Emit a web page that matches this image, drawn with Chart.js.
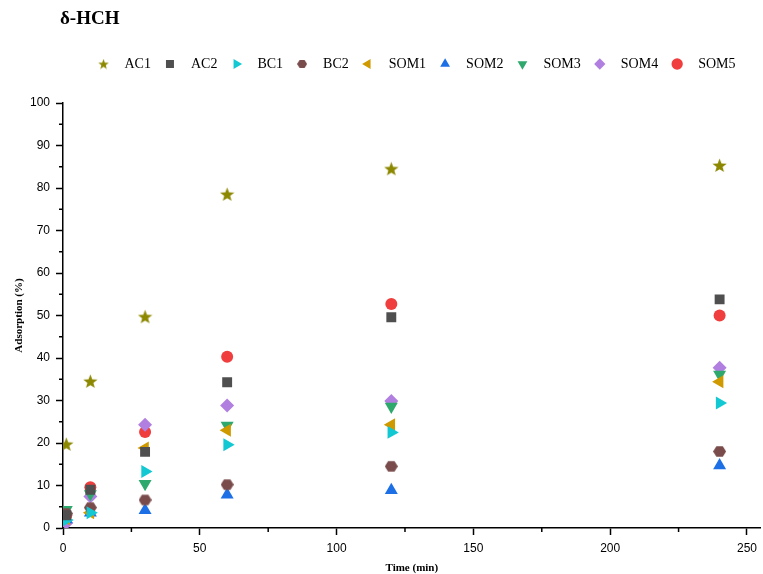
<!DOCTYPE html>
<html>
<head>
<meta charset="utf-8">
<script src="https://cdn.jsdelivr.net/npm/chart.js@4"></script>
<style>
  html, body { margin: 0; padding: 0; background: #fff; }
  #wrap { position: relative; width: 763px; height: 574px; }
  #title { position: absolute; left: 60px; top: 7px; font: bold 19px "Liberation Serif", serif; color: #000; }
</style>
</head>
<body>
<div id="wrap">
  <div id="title">δ-HCH</div>
  <canvas id="c" width="763" height="574"></canvas>
</div>
<script>
const times = [1.2, 10, 30, 60, 120, 240];
const labels = ['AC1', 'AC2', 'BC1', 'BC2', 'SOM1', 'SOM2', 'SOM3', 'SOM4', 'SOM5'];
const ac1  = [19.7, 34.5, 49.7, 78.5, 84.5, 85.3];
const ac2  = [3.0, 9.0, 17.9, 34.3, 49.6, 53.8];
const bc1  = [1.9, 3.6, 13.3, 19.6, 22.5, 29.4];
const bc2  = [3.4, 4.8, 6.6, 10.2, 14.5, 18.0];
const som1 = [2.2, 3.6, 18.8, 23.0, 24.3, 34.4];
const som2 = [2.0, 3.6, 4.2, 7.8, 8.9, 14.7];
const som3 = [4.3, 8.0, 10.4, 24.1, 28.6, 36.1];
const som4 = [1.2, 7.4, 24.3, 28.8, 29.9, 37.7];
const som5 = [3.0, 9.6, 22.6, 40.3, 52.7, 50.0];
const colors = ['#8c8800', '#4f4f4f', '#12c8d2', '#7a4b4b', '#cf9a00', '#1d6fe6', '#2ea86c', '#b07fe0', '#f03d3d'];

// custom filled marker shapes
function shape(size, color, kind) {
  const cv = document.createElement('canvas');
  cv.width = size; cv.height = size;
  const g = cv.getContext('2d');
  const c = size / 2, r = size / 2;
  g.fillStyle = color;
  g.beginPath();
  if (kind === 'star') {
    for (let i = 0; i < 10; i++) {
      const a = -Math.PI / 2 + i * Math.PI / 5;
      const rr = i % 2 ? r * 0.42 : r;
      g.lineTo(c + rr * Math.cos(a), c + 0.5 + rr * Math.sin(a));
    }
  } else {
    for (let i = 0; i < 6; i++) {
      const a = i * Math.PI / 3;
      g.lineTo(c + r * Math.cos(a), c + r * 0.95 * Math.sin(a));
    }
  }
  g.closePath();
  g.fill();
  return cv;
}

const styles = [
  { pointStyle: shape(15, colors[0], 'star') },
  { pointStyle: 'rect', pointRadius: 7 },
  { pointStyle: 'triangle', pointRadius: 7.5, rotation: 90 },
  { pointStyle: shape(13, colors[3], 'hex') },
  { pointStyle: 'triangle', pointRadius: 7.5, rotation: -90 },
  { pointStyle: 'triangle', pointRadius: 7.5 },
  { pointStyle: 'triangle', pointRadius: 7.5, rotation: 180 },
  { pointStyle: 'rectRot', pointRadius: 7 },
  { pointStyle: 'circle', pointRadius: 6 }
];
const legendImgs = { 0: shape(11, colors[0], 'star'), 3: shape(10, colors[3], 'hex') };

const series = [ac1, ac2, bc1, bc2, som1, som2, som3, som4, som5];
const datasets = series.map((vals, i) => Object.assign({
  label: labels[i],
  data: vals.map((v, j) => ({ x: times[j], y: v })),
  backgroundColor: colors[i],
  borderColor: colors[i],
  borderWidth: 0,
  pointRadius: 6,
  pointHoverRadius: 7
}, styles[i]));

const minorTicks = {
  id: 'minorTicks',
  afterInit(chart) {
    // extra gap between legend and plot, legend shifted right like the original
    const lg = chart.legend, fit = lg.fit, draw = lg.draw;
    lg.fit = function () { fit.call(this); this.height += 22; };
    lg.draw = function () {
      const ctx = this.ctx;
      ctx.save();
      ctx.translate(35, 0);
      draw.call(this);
      ctx.restore();
    };
  },
  afterDraw(chart) {
    const ctx = chart.ctx, xs = chart.scales.x, ys = chart.scales.y;
    ctx.save();
    ctx.strokeStyle = '#000';
    ctx.lineWidth = 1.5;
    ctx.beginPath();
    for (let v = 25; v < 255; v += 50) {
      const px = xs.getPixelForValue(v);
      ctx.moveTo(px, ys.bottom); ctx.lineTo(px, ys.bottom + 4);
    }
    for (let v = 5; v < 100; v += 10) {
      const py = ys.getPixelForValue(v);
      ctx.moveTo(xs.left, py); ctx.lineTo(xs.left - 4, py);
    }
    ctx.stroke();
    ctx.restore();
  }
};

new Chart(document.getElementById('c'), {
  type: 'scatter',
  data: { datasets },
  plugins: [minorTicks],
  options: {
    responsive: false,
    animation: false,
    layout: { autoPadding: false, padding: { top: 45, right: 1, left: 0, bottom: 0 } },
    plugins: {
      legend: {
        position: 'top',
        labels: {
          usePointStyle: true,
          boxHeight: 8,
          padding: 12,
          color: '#000',
          font: { family: '"Liberation Serif", serif', size: 14 },
          generateLabels(chart) {
            const items = Chart.defaults.plugins.legend.labels.generateLabels(chart);
            items.forEach((it, i) => {
              it.text = '  ' + it.text;
              if (legendImgs[i]) it.pointStyle = legendImgs[i];
            });
            return items;
          }
        }
      },
      tooltip: { enabled: false }
    },
    scales: {
      x: {
        type: 'linear',
        min: 0,
        max: 255,
        afterFit(s) { s.height = 46; },
        border: { color: '#000', width: 1.5 },
        grid: { drawOnChartArea: false, tickLength: 7, tickColor: '#000', tickWidth: 1.5 },
        ticks: { stepSize: 50, includeBounds: false, color: '#000', padding: 6, font: { family: '"Liberation Sans", Arial, sans-serif', size: 12 } },
        title: { display: true, text: 'Time (min)', color: '#000', padding: { top: 2, bottom: -1 }, font: { family: '"Liberation Serif", serif', size: 11, weight: 'bold' } }
      },
      y: {
        min: 0,
        max: 100,
        afterFit(s) { s.width = 63; },
        border: { color: '#000', width: 1.5 },
        grid: { drawOnChartArea: false, tickLength: 7, tickColor: '#000', tickWidth: 1.5 },
        ticks: { stepSize: 10, color: '#000', padding: 6, font: { family: '"Liberation Sans", Arial, sans-serif', size: 12 } },
        title: { display: true, text: 'Adsorption (%)', color: '#000', padding: { top: 13, bottom: 6 }, font: { family: '"Liberation Serif", serif', size: 11, weight: 'bold' } }
      }
    }
  }
});
</script>
</body>
</html>
